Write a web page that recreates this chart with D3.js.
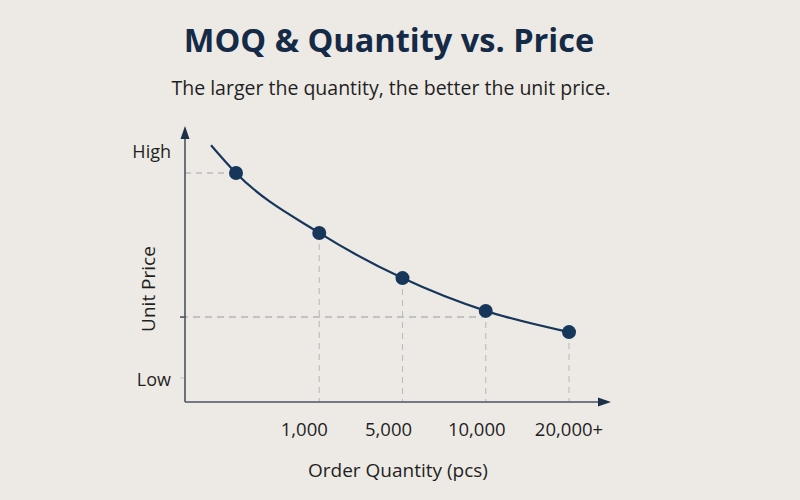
<!DOCTYPE html>
<html>
<head>
<meta charset="utf-8">
<script src="https://cdn.jsdelivr.net/npm/d3@7"></script>
<style>
  html, body { margin: 0; padding: 0; background: #edeae5; }
  svg { display: block; }
</style>
</head>
<body>
<svg id="chart" width="800" height="500"></svg>
<script>
// ---- data ----
const categories = ["MOQ", "1,000", "5,000", "10,000", "20,000+"];
const tickLabels = ["", "1,000", "5,000", "10,000", "20,000+"];
const priceValues = [90.8, 64.5, 44.7, 30.3, 21.0];   // relative unit price (Low=0, High=100)
const curveLead = { index: -0.3, value: 103 };         // start of the drawn curve, left of first point
const yLevelLabels = ["Low", "High"];
const yLevelValues = [0, 100];
const targetPrice = 27.6;                               // dashed reference level
const targetUntilIndex = 3;

const title = "MOQ & Quantity vs. Price";
const subtitle = "The larger the quantity, the better the unit price.";
const xTitle = "Order Quantity (pcs)";
const yTitle = "Unit Price";

// ---- layout ----
const svg = d3.select("#chart");
const W = 800, H = 500;
const originX = 185, originY = 402;
const axisTop = 126, axisRight = 611;
const navy = "#17375a", axisCol = "#4a5360", dashCol = "#bcbcbc", textCol = "#1f1f1f";
const font = "'Open Sans', 'Noto Sans', sans-serif";

svg.append("rect").attr("width", W).attr("height", H).attr("fill", "#edeae5");

const x = d3.scaleLinear().domain([0, categories.length - 1]).range([236, 569]);
const y = d3.scaleLinear().domain([0, 100]).range([380, 152]);

const pts = priceValues.map((v, i) => ({ i, v }));

// titles
svg.append("text").attr("x", 389).attr("y", 52).attr("text-anchor", "middle")
  .attr("font-family", font).attr("font-weight", 700).attr("font-size", 32.5)
  .attr("fill", "#152a47").text(title);
svg.append("text").attr("x", 391).attr("y", 95).attr("text-anchor", "middle")
  .attr("font-family", font).attr("font-size", 19.5)
  .attr("fill", textCol).text(subtitle);

// dashed guides
const g = svg.append("g");
g.append("line").attr("x1", originX).attr("x2", x(0)).attr("y1", y(priceValues[0])).attr("y2", y(priceValues[0]))
  .attr("stroke", dashCol).attr("stroke-width", 1.3).attr("stroke-dasharray", "6,5");
pts.slice(1).forEach(p => {
  g.append("line").attr("x1", x(p.i)).attr("x2", x(p.i)).attr("y1", y(p.v)).attr("y2", originY)
    .attr("stroke", dashCol).attr("stroke-width", 1.1).attr("stroke-dasharray", "6,5");
});
g.append("line").attr("x1", originX - 4).attr("x2", x(targetUntilIndex)).attr("y1", y(targetPrice)).attr("y2", y(targetPrice))
  .attr("stroke", "#b5b5b5").attr("stroke-width", 1.4).attr("stroke-dasharray", "7,5");
g.append("line").attr("x1", originX - 5).attr("x2", originX).attr("y1", y(targetPrice)).attr("y2", y(targetPrice))
  .attr("stroke", axisCol).attr("stroke-width", 1.5);
g.append("line").attr("x1", originX - 5).attr("x2", originX).attr("y1", y(0) - 2).attr("y2", y(0) - 2)
  .attr("stroke", "#c8c8c8").attr("stroke-width", 1.2);

// axes
svg.append("line").attr("x1", originX).attr("x2", originX).attr("y1", originY).attr("y2", axisTop + 10)
  .attr("stroke", axisCol).attr("stroke-width", 1.6);
svg.append("line").attr("x1", originX).attr("x2", axisRight - 10).attr("y1", originY).attr("y2", originY)
  .attr("stroke", axisCol).attr("stroke-width", 1.6);
svg.append("path").attr("d", `M${originX},${axisTop} L${originX - 4.5},${axisTop + 13} L${originX + 4.5},${axisTop + 13} Z`)
  .attr("fill", "#1e2f48");
svg.append("path").attr("d", `M${axisRight},${originY} L${axisRight - 13},${originY - 4.5} L${axisRight - 13},${originY + 4.5} Z`)
  .attr("fill", "#1e2f48");

// y level labels
yLevelLabels.forEach((t, k) => {
  svg.append("text").attr("x", 171).attr("y", y(yLevelValues[k]) + 6).attr("text-anchor", "end")
    .attr("font-family", font).attr("font-size", 18).attr("fill", textCol).text(t);
});

// x tick labels
const labelShift = [0, -15, -14, -9, 0];
tickLabels.forEach((t, i) => {
  if (!t) return;
  svg.append("text").attr("x", x(i) + labelShift[i]).attr("y", 436).attr("text-anchor", "middle")
    .attr("font-family", font).attr("font-size", 18.5).attr("fill", textCol).text(t);
});

// axis titles
svg.append("text").attr("x", 398).attr("y", 477).attr("text-anchor", "middle")
  .attr("font-family", font).attr("font-size", 19).attr("fill", textCol).text(xTitle);
svg.append("text").attr("transform", "translate(155,289) rotate(-90)").attr("text-anchor", "middle")
  .attr("font-family", font).attr("font-size", 19).attr("fill", textCol).text(yTitle);

// curve
const linePts = [{ i: curveLead.index, v: curveLead.value }].concat(pts);
const line = d3.line().x(d => x(d.i)).y(d => y(d.v)).curve(d3.curveMonotoneX);
svg.append("path").datum(linePts).attr("d", line).attr("fill", "none")
  .attr("stroke", navy).attr("stroke-width", 2.2);

// points
svg.selectAll("circle.pt").data(pts).join("circle").attr("class", "pt")
  .attr("cx", d => x(d.i)).attr("cy", d => y(d.v)).attr("r", 7).attr("fill", navy);
</script>
</body>
</html>
